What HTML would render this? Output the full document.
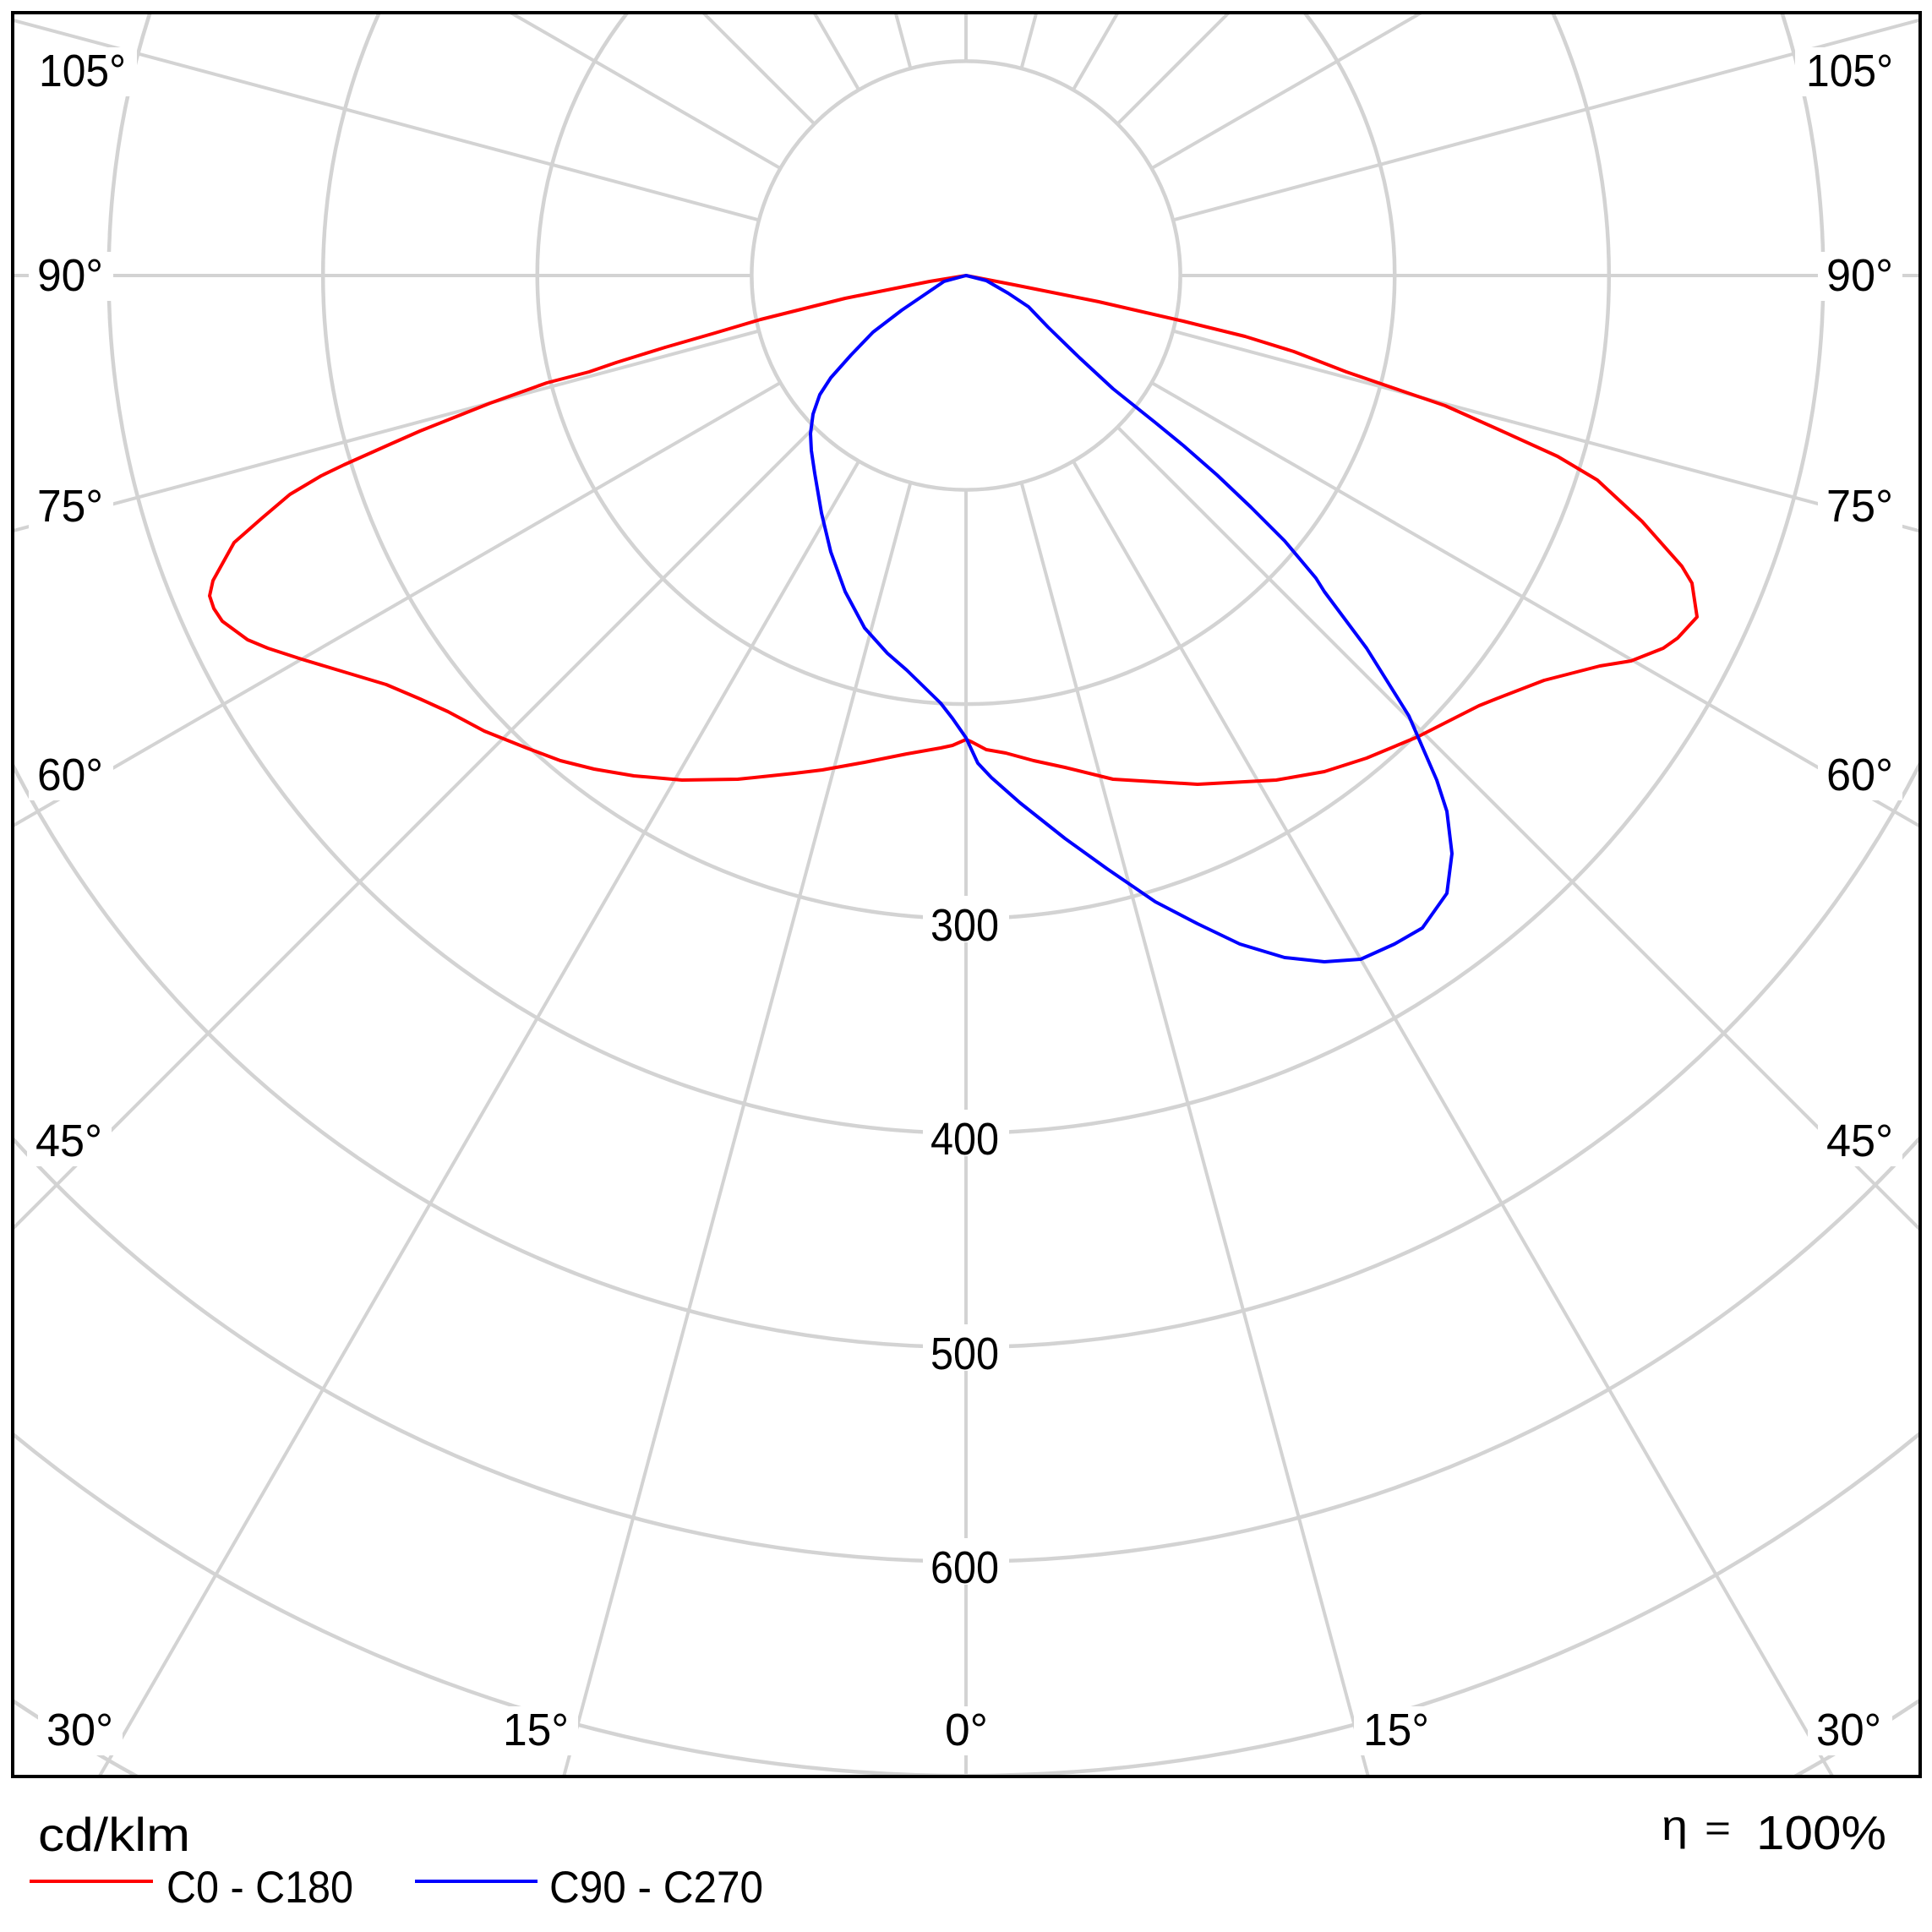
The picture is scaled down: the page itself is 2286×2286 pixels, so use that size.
<!DOCTYPE html>
<html>
<head>
<meta charset="utf-8">
<style>
html,body{margin:0;padding:0;background:#fff;width:2286px;height:2286px;overflow:hidden;}
svg{display:block;}
text{font-family:"Liberation Sans",Arial,sans-serif;fill:#000;}
</style>
</head>
<body>
<svg width="2286" height="2286" viewBox="0 0 2286 2286" xmlns="http://www.w3.org/2000/svg">
<defs>
<clipPath id="fr"><rect x="15" y="15" width="2257" height="2087"/></clipPath>
</defs>
<rect x="0" y="0" width="2286" height="2286" fill="#fff"/>
<g clip-path="url(#fr)">
  <g fill="none" stroke="#d3d3d3" stroke-width="4.5">
    <circle cx="1143" cy="326" r="253.6"/>
    <path d="M1543.7,15 A507.2,507.2 0 1 1 742.3,15"/>
    <path d="M1837.3,15 A760.8,760.8 0 1 1 448.7,15"/>
    <path d="M2108.5,15 A1014.4,1014.4 0 1 1 177.5,15"/>
    <path d="M2272,903.2 A1268,1268 0 0 1 15,905.2"/>
    <path d="M2272,1346.1 A1521.6,1521.6 0 0 1 15,1347.2"/>
    <path d="M2272,1695.9 A1775.2,1775.2 0 0 1 15,1696.7"/>
    <path d="M15,2012.3 A2028.8,2028.8 0 0 0 162.3,2102"/>
    <path d="M2123.7,2102 A2028.8,2028.8 0 0 0 2272,2011.6"/>
  </g>
  <g stroke="#d3d3d3" stroke-width="4">
    <line x1="1143" y1="579.6" x2="1143" y2="2102"/>
    <line x1="1077.4" y1="571" x2="667.1" y2="2102"/>
    <line x1="1208.6" y1="571" x2="1618.9" y2="2102"/>
    <line x1="1016.2" y1="545.6" x2="117.6" y2="2102"/>
    <line x1="1269.8" y1="545.6" x2="2168.4" y2="2102"/>
    <line x1="963.7" y1="505.3" x2="15" y2="1454"/>
    <line x1="1322.3" y1="505.3" x2="2272" y2="1455"/>
    <line x1="923.4" y1="452.8" x2="15" y2="977.3"/>
    <line x1="1362.6" y1="452.8" x2="2272" y2="977.8"/>
    <line x1="898" y1="391.6" x2="15" y2="628.2"/>
    <line x1="1388" y1="391.6" x2="2272" y2="628.5"/>
    <line x1="889.4" y1="326" x2="15" y2="326"/>
    <line x1="1396.6" y1="326" x2="2272" y2="326"/>
    <line x1="898" y1="260.4" x2="15" y2="23.8"/>
    <line x1="1388" y1="260.4" x2="2272" y2="23.5"/>
    <line x1="923.4" y1="199.2" x2="604.3" y2="15"/>
    <line x1="1362.6" y1="199.2" x2="1681.7" y2="15"/>
    <line x1="963.7" y1="146.7" x2="832" y2="15"/>
    <line x1="1322.3" y1="146.7" x2="1454" y2="15"/>
    <line x1="1016.2" y1="106.4" x2="963.4" y2="15"/>
    <line x1="1269.8" y1="106.4" x2="1322.6" y2="15"/>
    <line x1="1077.4" y1="81" x2="1059.7" y2="15"/>
    <line x1="1208.6" y1="81" x2="1226.3" y2="15"/>
    <line x1="1143" y1="72.4" x2="1143" y2="15"/>
  </g>
  <g fill="#fff">
    <rect x="38" y="56" width="124" height="58"/>
    <rect x="34" y="298" width="100" height="58"/>
    <rect x="34" y="571" width="100" height="58"/>
    <rect x="34" y="889" width="100" height="58"/>
    <rect x="32" y="1322" width="100" height="58"/>
    <rect x="45" y="2019" width="100" height="58"/>
    <rect x="2124" y="56" width="124" height="58"/>
    <rect x="2151" y="298" width="100" height="58"/>
    <rect x="2151" y="571" width="100" height="58"/>
    <rect x="2151" y="889" width="100" height="58"/>
    <rect x="2151" y="1322" width="100" height="58"/>
    <rect x="2139" y="2019" width="100" height="58"/>
    <rect x="584" y="2019" width="100" height="58"/>
    <rect x="1107" y="2019" width="72" height="58"/>
    <rect x="1602" y="2019" width="100" height="58"/>
    <rect x="1092" y="1060" width="102" height="55"/>
    <rect x="1092" y="1313" width="102" height="55"/>
    <rect x="1092" y="1567" width="102" height="55"/>
    <rect x="1092" y="1820" width="102" height="55"/>
  </g>
</g>

<g font-size="54">
  <text x="46" y="102" textLength="103" lengthAdjust="spacingAndGlyphs">105°</text>
  <text x="44" y="344" textLength="78" lengthAdjust="spacingAndGlyphs">90°</text>
  <text x="44" y="617" textLength="78" lengthAdjust="spacingAndGlyphs">75°</text>
  <text x="44" y="935" textLength="78" lengthAdjust="spacingAndGlyphs">60°</text>
  <text x="42" y="1368" textLength="79" lengthAdjust="spacingAndGlyphs">45°</text>
  <text x="55" y="2065" textLength="79" lengthAdjust="spacingAndGlyphs">30°</text>

  <text x="2137" y="102" textLength="103" lengthAdjust="spacingAndGlyphs">105°</text>
  <text x="2161" y="344" textLength="79" lengthAdjust="spacingAndGlyphs">90°</text>
  <text x="2161" y="617" textLength="79" lengthAdjust="spacingAndGlyphs">75°</text>
  <text x="2161" y="935" textLength="79" lengthAdjust="spacingAndGlyphs">60°</text>
  <text x="2161" y="1368" textLength="79" lengthAdjust="spacingAndGlyphs">45°</text>
  <text x="2149" y="2065" textLength="77" lengthAdjust="spacingAndGlyphs">30°</text>

  <text x="595" y="2065" textLength="78" lengthAdjust="spacingAndGlyphs">15°</text>
  <text x="1118" y="2065" textLength="51" lengthAdjust="spacingAndGlyphs">0°</text>
  <text x="1613" y="2065" textLength="78" lengthAdjust="spacingAndGlyphs">15°</text>

  <text x="1101" y="1113" textLength="81" lengthAdjust="spacingAndGlyphs">300</text>
  <text x="1101" y="1366" textLength="81" lengthAdjust="spacingAndGlyphs">400</text>
  <text x="1101" y="1620" textLength="81" lengthAdjust="spacingAndGlyphs">500</text>
  <text x="1101" y="1873" textLength="81" lengthAdjust="spacingAndGlyphs">600</text>
</g>

<g fill="none" stroke-width="4" stroke-linejoin="round" stroke-linecap="round">
  <path stroke="#ff0000" d="M1143,326 L1100,333 L1000,353 L900,378 L846,394 L787,411 L729,429 L697,440 L647,453 L580,477 L497,510 L463,525 L407,550 L380,563 L343,585 L310,613 L277,642 L252,687 L248,705 L253,720 L263,735 L293,757 L317,767 L357,780 L407,795 L457,810 L497,827 L530,842 L573,865 L623,885 L663,900 L703,910 L750,918 L807,923 L873,922 L940,915 L973,911 L1023,902 L1073,892 L1113,885 L1127,882 L1143,875 L1150,878 L1167,887 L1190,891 L1223,900 L1260,908 L1317,922 L1417,928 L1510,923 L1567,913 L1617,897 L1677,872 L1750,835 L1770,827 L1827,805 L1893,788 L1930,782 L1968,767 L1985,755 L2008,730 L2002,690 L1990,670 L1943,617 L1890,568 L1843,540 L1777,510 L1710,480 L1660,463 L1593,440 L1531,416 L1473,398 L1400,380 L1300,357 L1200,337 L1143,326"/>
  <path stroke="#0000ff" d="M1143,326 L1117,333 L1067,367 L1033,393 L1007,420 L983,447 L970,467 L962,490 L959,513 L960,533 L964,560 L972,607 L983,653 L1000,700 L1023,743 L1050,773 L1073,793 L1113,832 L1127,850 L1143,873 L1157,903 L1173,920 L1207,950 L1260,992 L1310,1028 L1367,1067 L1417,1093 L1467,1117 L1520,1133 L1567,1138 L1610,1135 L1650,1117 L1683,1098 L1712,1057 L1718,1010 L1712,960 L1700,923 L1667,847 L1617,767 L1567,700 L1557,684 L1520,640 L1480,600 L1440,562 L1400,527 L1367,500 L1317,460 L1277,423 L1240,387 L1217,363 L1193,347 L1167,332 L1143,326"/>
</g>

<rect x="15" y="15" width="2257" height="2087" fill="none" stroke="#000" stroke-width="4"/>

<text x="45" y="2190" font-size="56" textLength="180" lengthAdjust="spacingAndGlyphs">cd/klm</text>
<line x1="35" y1="2226" x2="181" y2="2226" stroke="#ff0000" stroke-width="4"/>
<text x="197" y="2251" font-size="53" textLength="221" lengthAdjust="spacingAndGlyphs">C0 - C180</text>
<line x1="491" y1="2226" x2="636" y2="2226" stroke="#0000ff" stroke-width="4"/>
<text x="650" y="2251" font-size="53" textLength="253" lengthAdjust="spacingAndGlyphs">C90 - C270</text>

<text x="1966" y="2177" font-size="50" textLength="31" lengthAdjust="spacingAndGlyphs">η</text>
<text x="2017" y="2178" font-size="44" textLength="31" lengthAdjust="spacingAndGlyphs">=</text>
<text x="2078" y="2188" font-size="57" textLength="154" lengthAdjust="spacingAndGlyphs">100%</text>
</svg>
</body>
</html>
